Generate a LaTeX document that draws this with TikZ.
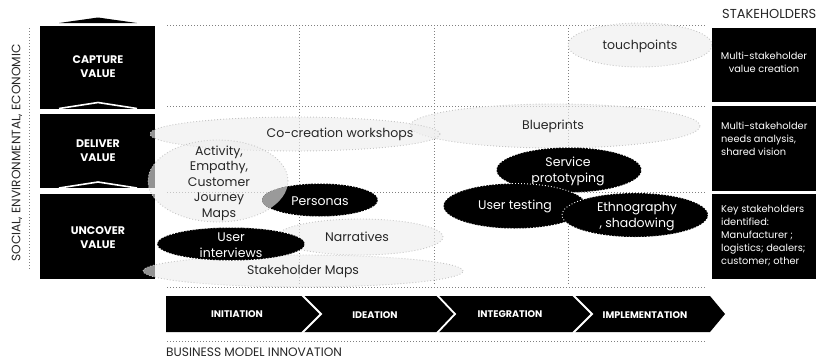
\documentclass[tikz,border=0pt]{standalone}
\usepackage{fontspec}
\setmainfont{Poppins}
\usetikzlibrary{shapes.geometric}
\definecolor{lightfill}{HTML}{EEEEEE}
\definecolor{lightline}{HTML}{C4C4C4}
\definecolor{gridline}{HTML}{808080}
\definecolor{overlapgray}{HTML}{9A9A9A}
\begin{document}
\begin{tikzpicture}[x=1pt,y=-1pt,
  blk/.style={fill=black},
  gridln/.style={draw=gridline,line width=0.9pt,dash pattern=on 0.9pt off 2.1pt},
  lightell/.style={ellipse,inner sep=0pt,outer sep=0pt,fill=lightfill,fill opacity=0.62,
     draw=lightline,draw opacity=1,line width=0.9pt,dash pattern=on 0.9pt off 2.1pt},
  darkell/.style={ellipse,inner sep=0pt,outer sep=0pt,fill=black,draw=white,
     line width=0.9pt,dash pattern=on 0.9pt off 2.1pt},
  ltext/.style={font=\fontsize{12.5}{15.5}\selectfont,align=center,inner sep=0pt,text=black!85},
  dtext/.style={font=\fontsize{12.5}{16}\selectfont,align=center,inner sep=0pt,text=white},
  boxlab/.style={font=\fontsize{11}{14}\selectfont\bfseries,align=center,text=white,inner sep=0pt},
  rtext/.style={font=\fontsize{9.8}{13}\selectfont,text=white,inner sep=0pt},
  phaselab/.style={font=\fontsize{9.6}{11}\selectfont\bfseries,text=white,inner sep=0pt},
  caplab/.style={font=\fontsize{12.2}{14}\selectfont,text=black!85,inner sep=0pt}
]
\useasboundingbox (0,0) rectangle (816,359);

% left stacked boxes
\fill[blk] (59,23) -- (98,17.5) -- (137,23) -- cycle;
\fill[blk] (40,26) rectangle (155,109);
\fill[blk] (40,114) rectangle (155,188);
\fill[blk] (40,194) rectangle (155,279);
\draw[white,line width=1.6pt] (59,108.5) -- (98,102.5) -- (137,108.5);
\draw[white,line width=1.6pt] (59,188) -- (98,182) -- (137,188);
\node[boxlab] (capture) at (98,67) {CAPTURE\\VALUE};
\node[boxlab] (deliver) at (98,151) {DELIVER\\VALUE};
\node[boxlab] (uncover) at (98,238) {UNCOVER\\VALUE};

% vertical label
\draw[gridln] (29,28) -- (29,270);
\node[caplab,rotate=90] (social) at (17,153) {SOCIAL, ENVIRONMENTAL, ECONOMIC};

% grid
\foreach \yy in {25,106,192,287} \draw[gridln] (167,\yy) -- (705,\yy);
\foreach \xx in {299,434,568} \draw[gridln] (\xx,28) -- (\xx,285);
\draw[gridln] (167,341) -- (705,341);

% light ellipses
\node[lightell,minimum width=144pt,minimum height=44pt] (touch) at (640,45) {};
\node[ltext] (toucht) at (640,46) {touchpoints};
\node[lightell,minimum width=290pt,minimum height=44pt] (blue) at (555,126) {};
\node[ltext] (bluet) at (553,126) {Blueprints};
\node[lightell,minimum width=290pt,minimum height=34pt] (cocr) at (295,134) {};
\node[ltext] (cocrt) at (340,134) {Co-creation workshops};
\node[lightell,minimum width=166pt,minimum height=36pt] (narr) at (360,237) {};
\node[ltext] (narrt) at (357,237) {Narratives};
\node[lightell,minimum width=320pt,minimum height=32pt] (stake) at (303,271) {};
\node[ltext] (staket) at (303,271) {Stakeholder Maps};
\node[lightell,minimum width=140pt,minimum height=82pt] (act) at (218,181) {};
\node[ltext] (actt) at (219,183) {Activity,\\Empathy,\\Customer\\Journey\\Maps};

% dark ellipses
\node[darkell,minimum width=116pt,minimum height=33pt] (pers) at (320,200) {};
\begin{scope}
\clip (218,181) ellipse [x radius=70,y radius=41];
\fill[overlapgray] (320,200) ellipse [x radius=58,y radius=16.5];
\end{scope}
\node[dtext] (perst) at (320,201) {Personas};
\node[darkell,minimum width=148pt,minimum height=33pt] (inter) at (231,244) {};
\node[dtext] (intert) at (231,245) {User\\interviews};
\node[darkell,minimum width=145pt,minimum height=45pt] (serv) at (569,170) {};
\node[dtext] (servt) at (568,171) {Service\\prototyping};
\node[darkell,minimum width=143pt,minimum height=45pt] (test) at (515,206) {};
\node[dtext] (testt) at (515,206) {User testing};
\node[darkell,minimum width=146pt,minimum height=44pt] (ethno) at (635,215) {};
\node[dtext] (ethnot) at (637,217) {Ethnography\\, shadowing};

% right boxes
\node[caplab,anchor=west,font=\fontsize{13}{14}\selectfont] (stakeh) at (722,14) {STAKEHOLDERS};
\fill[blk] (712,28) rectangle (816,102);
\fill[blk] (712,106) rectangle (816,191);
\fill[blk] (712,194) rectangle (816,279);
\node[rtext,align=center] (r1) at (764,62) {Multi-stakeholder\\value creation};
\node[rtext,align=left,anchor=north west] (r2) at (721,122) {Multi-stakeholder\\needs analysis,\\shared vision};
\node[rtext,align=left,anchor=north west] (r3) at (721,205) {Key stakeholders\\identified:\\Manufacturer ;\\logistics; dealers;\\customer; other};

% phase band
\fill[blk] (166,296) -- (710,296) -- (725,314) -- (710,332) -- (166,332) -- cycle;
\draw[white,line width=1.8pt] (302,295) -- (321,314) -- (302,333);
\draw[white,line width=1.8pt] (437,295) -- (455,314) -- (437,333);
\draw[white,line width=1.8pt] (573,295) -- (592,314) -- (573,333);
\node[phaselab] (init) at (237,314) {INITIATION};
\node[phaselab] (idea) at (375,315) {IDEATION};
\node[phaselab] (integ) at (510,314) {INTEGRATION};
\node[phaselab] (impl) at (645,315) {IMPLEMENTATION};
\node[caplab,anchor=west] (bmi) at (166,352) {BUSINESS MODEL INNOVATION};
\end{tikzpicture}
\end{document}
